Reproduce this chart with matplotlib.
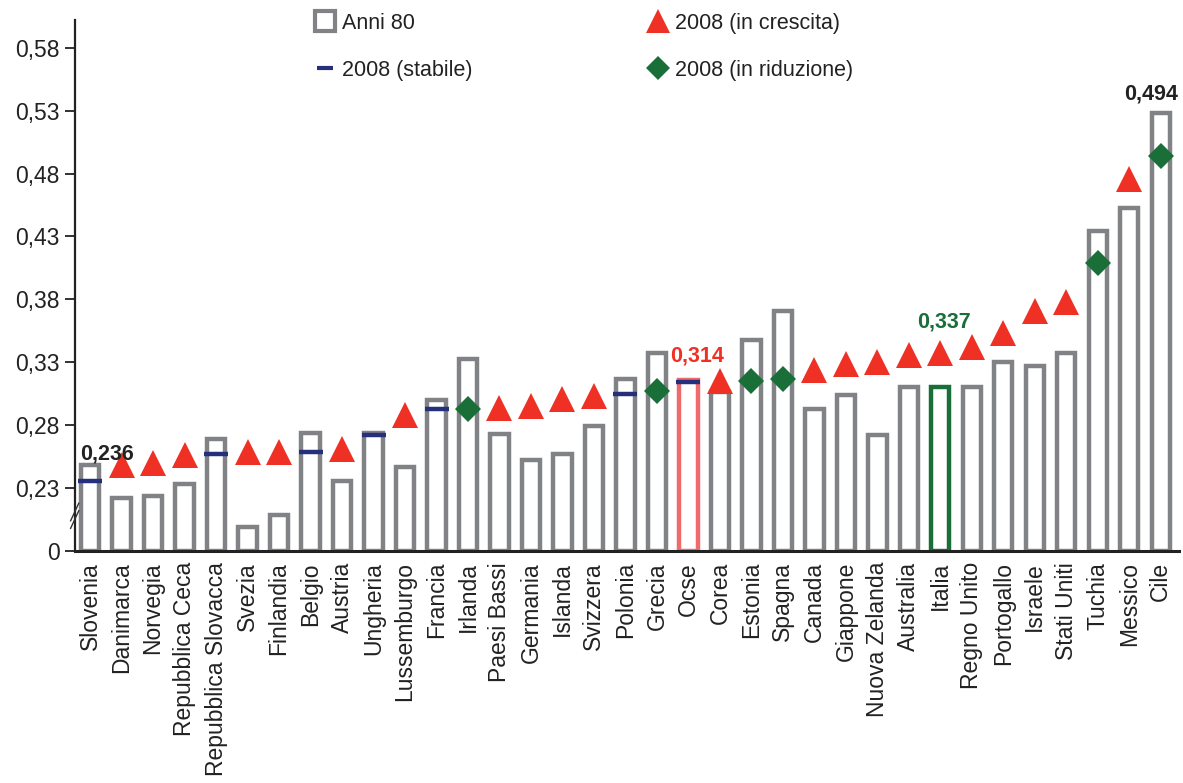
import matplotlib
matplotlib.use("Agg")
import matplotlib.pyplot as plt
from matplotlib.lines import Line2D
import numpy as np

plt.rcParams['font.family'] = ['Liberation Sans', 'DejaVu Sans']

paesi = ['Slovenia', 'Danimarca', 'Norvegia', 'Repubblica Ceca', 'Repubblica Slovacca',
         'Svezia', 'Finlandia', 'Belgio', 'Austria', 'Ungheria', 'Lussemburgo', 'Francia',
         'Irlanda', 'Paesi Bassi', 'Germania', 'Islanda', 'Svizzera', 'Polonia', 'Grecia',
         'Ocse', 'Corea', 'Estonia', 'Spagna', 'Canada', 'Giappone', 'Nuova Zelanda',
         'Australia', 'Italia', 'Regno Unito', 'Portogallo', 'Israele', 'Stati Uniti',
         'Tuchia', 'Messico', 'Cile']

# indice di Gini, anni 80
anni80 = [0.248, 0.222, 0.224, 0.233, 0.269, 0.199, 0.209, 0.274, 0.236, 0.274, 0.247,
          0.300, 0.333, 0.273, 0.252, 0.257, 0.279, 0.317, 0.337, 0.316, 0.306, 0.348,
          0.371, 0.293, 0.304, 0.272, 0.310, 0.310, 0.310, 0.330, 0.327, 0.337, 0.434,
          0.453, 0.528]

# indice di Gini, 2008
gini2008 = [0.236, 0.248, 0.250, 0.256, 0.257, 0.259, 0.259, 0.259, 0.261, 0.272, 0.288,
            0.293, 0.293, 0.294, 0.295, 0.301, 0.303, 0.305, 0.307, 0.314, 0.315, 0.315,
            0.317, 0.324, 0.329, 0.330, 0.336, 0.337, 0.342, 0.353, 0.371, 0.378, 0.409,
            0.476, 0.494]

# s = stabile, c = in crescita, r = in riduzione
tendenza = ['s', 'c', 'c', 'c', 's', 'c', 'c', 's', 'c', 's', 'c', 's', 'r', 'c', 'c',
            'c', 'c', 's', 'r', 's', 'c', 'r', 'r', 'c', 'c', 'c', 'c', 'c', 'c', 'c',
            'c', 'c', 'r', 'c', 'r']

tick_vals = [0.23, 0.28, 0.33, 0.38, 0.43, 0.48, 0.53, 0.58]

GRIGIO = '#818286'
ROSSO = '#ee3124'
VERDE = '#1a6e38'
BLU = '#262f7c'

# l'asse e' spezzato: lo "0" viene disegnato a quota 0.18
base = 0.18

fig = plt.figure(figsize=(11.83, 7.83), dpi=100)
ax = fig.add_axes([0.0634, 0.2963, 0.933, 0.678])

x = np.arange(len(paesi))
v80 = np.array(anni80)
v08 = np.array(gini2008)
trend = np.array(tendenza)

edge = [GRIGIO] * len(paesi)
edge[paesi.index('Ocse')] = '#ef6b6b'
edge[paesi.index('Italia')] = VERDE
ax.bar(x, v80 - base, bottom=base, width=0.58, facecolor='white',
       edgecolor=edge, linewidth=3.2, zorder=2)

m = trend == 'c'
ax.plot(x[m], v08[m], ls='none', marker='^', ms=19, color=ROSSO, mew=0, zorder=3)
m = trend == 'r'
ax.plot(x[m], v08[m], ls='none', marker='D', ms=13, color=VERDE, mew=0, zorder=3)
m = trend == 's'
ax.plot(x[m], v08[m], ls='none', marker='_', ms=17, color=BLU, mew=3.2, zorder=3)

# etichette dei valori evidenziati
lab_style = dict(ha='center', va='bottom', fontsize=15.5, fontweight='bold')
for nome, col, dx, dy in [('Slovenia', '#222222', 0.55, 0.013),
                          ('Ocse', ROSSO, 0.28, 0.013),
                          ('Italia', VERDE, 0.1, 0.017),
                          ('Cile', '#222222', -0.3, 0.041)]:
    i = paesi.index(nome)
    ax.text(i + dx, gini2008[i] + dy, f'{gini2008[i]:.3f}'.replace('.', ','),
            color=col, **lab_style)

ax.set_xlim(-0.48, len(paesi) - 0.43)
ax.set_ylim(base, 0.602)
ax.set_yticks([base] + tick_vals)
ax.set_yticklabels(['0'] + [f'{t:.2f}'.replace('.', ',') for t in tick_vals])
ax.set_xticks(x)
ax.set_xticklabels(paesi, rotation=90)
ax.tick_params(axis='y', length=7, width=1.3, labelsize=16.5, color='#222222',
               labelcolor='#222222', pad=4)
ax.tick_params(axis='x', length=0, labelsize=16.5, labelcolor='#222222', pad=8)

for s in ['top', 'right']:
    ax.spines[s].set_visible(False)
ax.spines['left'].set_linewidth(1.6)
ax.spines['bottom'].set_linewidth(2.2)
ax.spines['left'].set_color('#222222')
ax.spines['bottom'].set_color('#222222')

# segno di interruzione dell'asse
for off in (0.0, 0.006):
    ax.plot([-0.62, -0.36], [0.198 + off, 0.212 + off], color='#333333', lw=1.0,
            clip_on=False, zorder=4)

handles = [
    Line2D([], [], ls='none', marker='s', ms=15, mfc='white', mec=GRIGIO, mew=3),
    Line2D([], [], ls='none', marker='_', ms=11, color=BLU, mew=3),
    Line2D([], [], ls='none', marker='^', ms=17, color=ROSSO, mew=0),
    Line2D([], [], ls='none', marker='D', ms=12, color=VERDE, mew=0),
]
labels = ['Anni 80', '2008 (stabile)', '2008 (in crescita)', '2008 (in riduzione)']
ax.legend(handles, labels, ncol=2, loc='upper left', bbox_to_anchor=(0.199, 1.05),
          frameon=False, fontsize=15.5, handlelength=1.0, handletextpad=0.3,
          columnspacing=8.1, labelspacing=1.2, labelcolor='#222222')

fig.savefig('out.png', dpi=100)
